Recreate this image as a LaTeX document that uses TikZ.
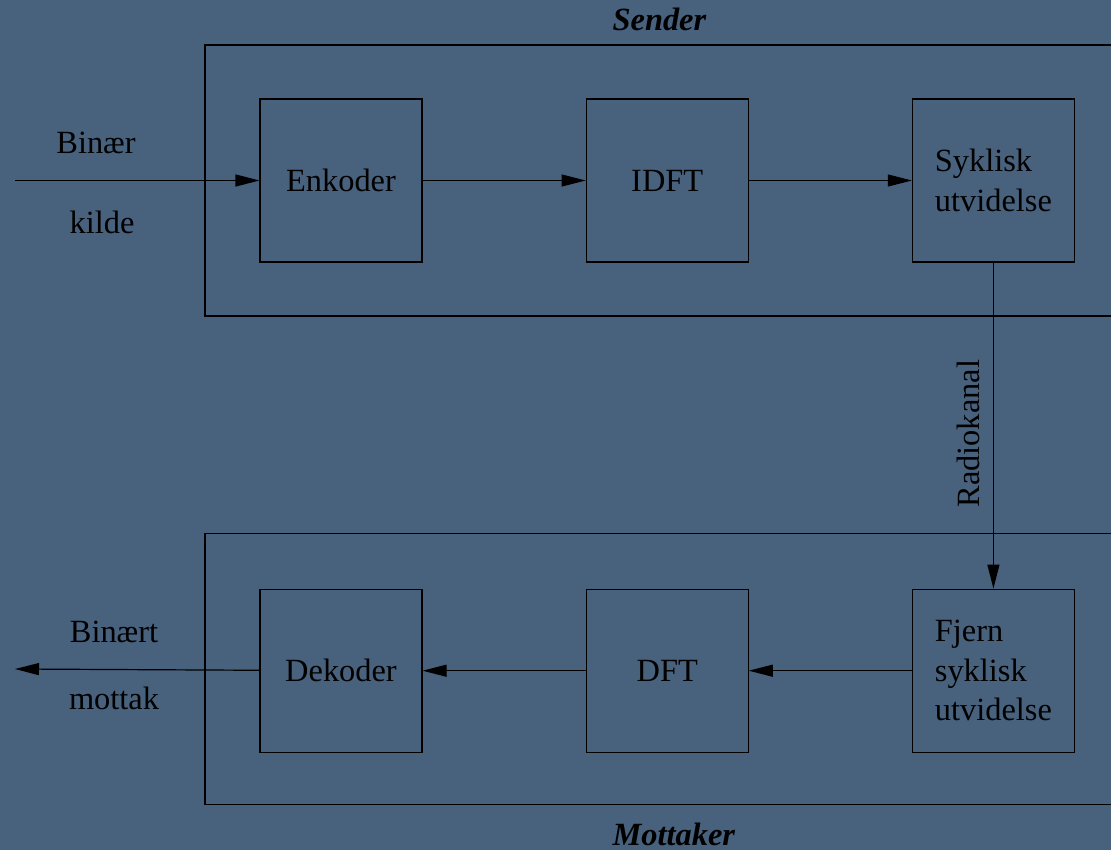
\documentclass[tikz,border=0pt]{standalone}
\usepackage{fontspec}
\setmainfont{Liberation Serif}
\usetikzlibrary{arrows.meta, positioning}
\definecolor{chanBlue}{HTML}{48617D}
\tikzset{
  block/.style = {rectangle, draw=black, minimum width=81pt,
                  minimum height=81.5pt, inner sep=0pt, align=left},
  frame/.style = {rectangle, draw=black, minimum width=477.5pt,
                  minimum height=135.5pt, inner sep=0pt},
  arrow/.style = {-{Triangle[length=12pt, width=6pt]}, line width=0.6pt},
  lbl/.style   = {anchor=base, inner sep=0pt},
  title/.style = {anchor=base west, inner sep=0pt, font=\fontsize{16.2}{19.8}\selectfont\bfseries\itshape},
}

\begin{document}
\begin{tikzpicture}[node distance=81.5pt and 81.5pt, line width=0.6pt,
                    font=\fontsize{16.2}{19.8}\selectfont]

  \clip (0,0) rectangle (555.5pt,-425pt);
  \fill[chanBlue] (0,0) rectangle (555.5pt,-425pt);

  % ---- Sender (top row) ----
  \node[frame] (sender) at (341.25pt,-90.25pt) {};
  \node[block] (enc) at (170.5pt,-90.25pt) {Enkoder};
  \node[block, right=of enc]  (idft) {IDFT};
  \node[block, right=of idft] (cp)   {Syklisk\\utvidelse};

  % ---- Mottaker (bottom row) ----
  \node[frame] (mottaker) at (341.25pt,-334.5pt) {};
  \node[block, below=163pt of cp] (rmcp) {Fjern\\syklisk\\utvidelse};
  \node[block, left=of rmcp] (dft) {DFT};
  \node[block, left=of dft]  (dec) {Dekoder};

  % ---- Titles ----
  \node[title] (sendtitle) at (306pt,-15.5pt)  {Sender};
  \node[title] (mottitle)  at (306pt,-422.5pt) {Mottaker};

  % ---- Source / sink ----
  \coordinate (src)  at (7.5pt,-90.25pt);
  \coordinate (sink) at (7.5pt,-334.5pt);
  \node[lbl] (srcA)  at (48pt,-77pt)     {Binær};
  \node[lbl] (srcB)  at (51pt,-116.5pt)  {kilde};
  \node[lbl] (sinkA) at (57pt,-321.3pt)  {Binært};
  \node[lbl] (sinkB) at (57pt,-354.5pt)  {mottak};

  % ---- Arrows ----
  \draw[arrow] (src)  -- (enc);
  \draw[arrow] (enc)  -- (idft);
  \draw[arrow] (idft) -- (cp);
  \draw[arrow] (cp)   -- node[pos=0.525, rotate=90, anchor=south, inner sep=6.5pt]{Radiokanal} (rmcp);
  \draw[arrow] (rmcp) -- (dft);
  \draw[arrow] (dft)  -- (dec);
  \draw[arrow] (dec)  -- (sink);

\end{tikzpicture}
\end{document}
